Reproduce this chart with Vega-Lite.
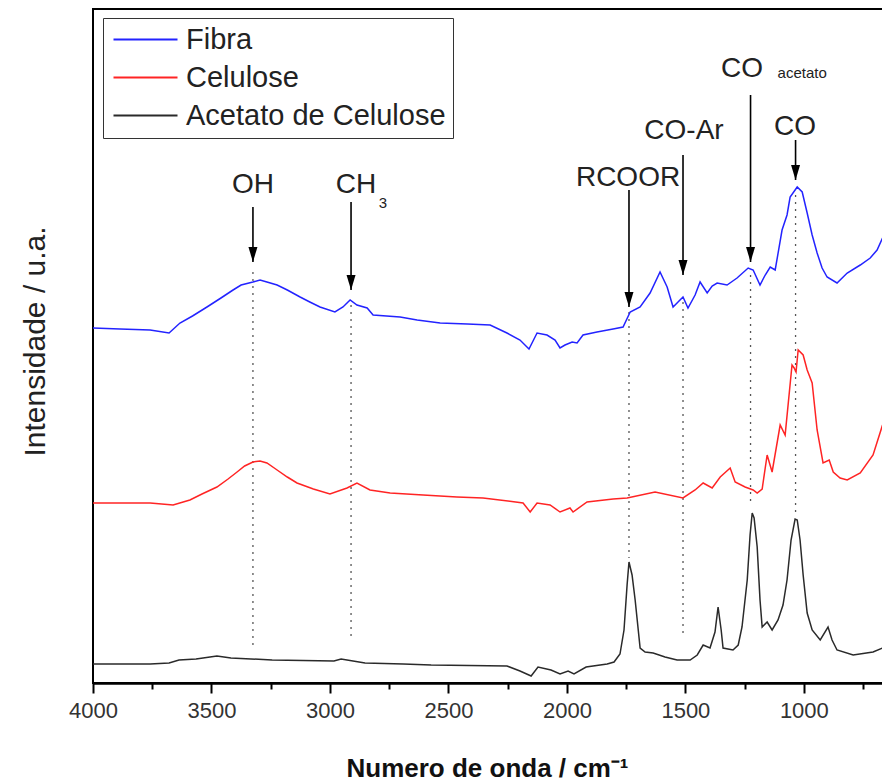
{
  "$schema": "https://vega.github.io/schema/vega-lite/v6.json",
  "width": 790,
  "height": 674,
  "autosize": {"type": "none"},
  "padding": {"left": 93, "top": 9, "right": 0, "bottom": 99},
  "background": "white",
  "config": {
    "view": {"stroke": "black", "strokeWidth": 2},
    "font": "Liberation Sans"
  },
  "datasets": {
    "spectra": [
      {"sample": "Fibra", "wn": 4000, "v": 35.5}, {"sample": "Fibra", "wn": 3886, "v": 35.4}, {"sample": "Fibra", "wn": 3759, "v": 35.3}, {"sample": "Fibra", "wn": 3679, "v": 35.0}, {"sample": "Fibra", "wn": 3633, "v": 36.0}, {"sample": "Fibra", "wn": 3580, "v": 36.7}, {"sample": "Fibra", "wn": 3519, "v": 37.6}, {"sample": "Fibra", "wn": 3460, "v": 38.5}, {"sample": "Fibra", "wn": 3409, "v": 39.3}, {"sample": "Fibra", "wn": 3375, "v": 39.8}, {"sample": "Fibra", "wn": 3325, "v": 40.1}, {"sample": "Fibra", "wn": 3295, "v": 40.3}, {"sample": "Fibra", "wn": 3266, "v": 40.1}, {"sample": "Fibra", "wn": 3223, "v": 39.8}, {"sample": "Fibra", "wn": 3180, "v": 39.3}, {"sample": "Fibra", "wn": 3126, "v": 38.6}, {"sample": "Fibra", "wn": 3085, "v": 38.1}, {"sample": "Fibra", "wn": 3042, "v": 37.6}, {"sample": "Fibra", "wn": 2979, "v": 37.1}, {"sample": "Fibra", "wn": 2945, "v": 37.6}, {"sample": "Fibra", "wn": 2915, "v": 38.3}, {"sample": "Fibra", "wn": 2886, "v": 37.8}, {"sample": "Fibra", "wn": 2843, "v": 37.5}, {"sample": "Fibra", "wn": 2818, "v": 36.8}, {"sample": "Fibra", "wn": 2704, "v": 36.6}, {"sample": "Fibra", "wn": 2632, "v": 36.3}, {"sample": "Fibra", "wn": 2535, "v": 36.0}, {"sample": "Fibra", "wn": 2420, "v": 35.9}, {"sample": "Fibra", "wn": 2324, "v": 35.8}, {"sample": "Fibra", "wn": 2253, "v": 35.0}, {"sample": "Fibra", "wn": 2198, "v": 34.3}, {"sample": "Fibra", "wn": 2160, "v": 33.4}, {"sample": "Fibra", "wn": 2126, "v": 35.0}, {"sample": "Fibra", "wn": 2084, "v": 34.8}, {"sample": "Fibra", "wn": 2050, "v": 34.3}, {"sample": "Fibra", "wn": 2029, "v": 33.5}, {"sample": "Fibra", "wn": 2008, "v": 33.8}, {"sample": "Fibra", "wn": 1978, "v": 34.1}, {"sample": "Fibra", "wn": 1957, "v": 34.0}, {"sample": "Fibra", "wn": 1932, "v": 34.8}, {"sample": "Fibra", "wn": 1873, "v": 35.1}, {"sample": "Fibra", "wn": 1805, "v": 35.4}, {"sample": "Fibra", "wn": 1763, "v": 35.6}, {"sample": "Fibra", "wn": 1733, "v": 37.1}, {"sample": "Fibra", "wn": 1691, "v": 37.6}, {"sample": "Fibra", "wn": 1649, "v": 39.0}, {"sample": "Fibra", "wn": 1607, "v": 41.1}, {"sample": "Fibra", "wn": 1577, "v": 39.6}, {"sample": "Fibra", "wn": 1552, "v": 37.6}, {"sample": "Fibra", "wn": 1531, "v": 38.1}, {"sample": "Fibra", "wn": 1510, "v": 38.6}, {"sample": "Fibra", "wn": 1489, "v": 37.5}, {"sample": "Fibra", "wn": 1459, "v": 38.8}, {"sample": "Fibra", "wn": 1438, "v": 40.1}, {"sample": "Fibra", "wn": 1408, "v": 39.0}, {"sample": "Fibra", "wn": 1387, "v": 39.7}, {"sample": "Fibra", "wn": 1366, "v": 40.0}, {"sample": "Fibra", "wn": 1324, "v": 39.8}, {"sample": "Fibra", "wn": 1282, "v": 40.5}, {"sample": "Fibra", "wn": 1235, "v": 41.5}, {"sample": "Fibra", "wn": 1214, "v": 41.3}, {"sample": "Fibra", "wn": 1185, "v": 39.8}, {"sample": "Fibra", "wn": 1163, "v": 40.8}, {"sample": "Fibra", "wn": 1142, "v": 41.6}, {"sample": "Fibra", "wn": 1121, "v": 41.3}, {"sample": "Fibra", "wn": 1092, "v": 45.3}, {"sample": "Fibra", "wn": 1071, "v": 46.8}, {"sample": "Fibra", "wn": 1058, "v": 48.6}, {"sample": "Fibra", "wn": 1028, "v": 49.6}, {"sample": "Fibra", "wn": 1007, "v": 49.1}, {"sample": "Fibra", "wn": 986, "v": 47.0}, {"sample": "Fibra", "wn": 965, "v": 44.8}, {"sample": "Fibra", "wn": 944, "v": 43.0}, {"sample": "Fibra", "wn": 923, "v": 41.5}, {"sample": "Fibra", "wn": 902, "v": 40.6}, {"sample": "Fibra", "wn": 860, "v": 40.0}, {"sample": "Fibra", "wn": 817, "v": 41.0}, {"sample": "Fibra", "wn": 762, "v": 41.8}, {"sample": "Fibra", "wn": 720, "v": 42.5}, {"sample": "Fibra", "wn": 691, "v": 43.3}, {"sample": "Fibra", "wn": 668, "v": 44.5},
      {"sample": "Celulose", "wn": 4000, "v": 18.0}, {"sample": "Celulose", "wn": 3759, "v": 18.0}, {"sample": "Celulose", "wn": 3662, "v": 17.8}, {"sample": "Celulose", "wn": 3591, "v": 18.3}, {"sample": "Celulose", "wn": 3540, "v": 18.9}, {"sample": "Celulose", "wn": 3477, "v": 19.6}, {"sample": "Celulose", "wn": 3430, "v": 20.4}, {"sample": "Celulose", "wn": 3392, "v": 21.1}, {"sample": "Celulose", "wn": 3360, "v": 21.7}, {"sample": "Celulose", "wn": 3325, "v": 22.1}, {"sample": "Celulose", "wn": 3295, "v": 22.2}, {"sample": "Celulose", "wn": 3266, "v": 22.0}, {"sample": "Celulose", "wn": 3223, "v": 21.3}, {"sample": "Celulose", "wn": 3180, "v": 20.6}, {"sample": "Celulose", "wn": 3139, "v": 20.0}, {"sample": "Celulose", "wn": 3070, "v": 19.4}, {"sample": "Celulose", "wn": 3000, "v": 18.9}, {"sample": "Celulose", "wn": 2928, "v": 19.5}, {"sample": "Celulose", "wn": 2886, "v": 20.0}, {"sample": "Celulose", "wn": 2831, "v": 19.3}, {"sample": "Celulose", "wn": 2746, "v": 19.0}, {"sample": "Celulose", "wn": 2607, "v": 18.8}, {"sample": "Celulose", "wn": 2464, "v": 18.6}, {"sample": "Celulose", "wn": 2354, "v": 18.5}, {"sample": "Celulose", "wn": 2185, "v": 18.0}, {"sample": "Celulose", "wn": 2155, "v": 17.1}, {"sample": "Celulose", "wn": 2126, "v": 18.0}, {"sample": "Celulose", "wn": 2071, "v": 17.8}, {"sample": "Celulose", "wn": 2029, "v": 17.1}, {"sample": "Celulose", "wn": 1987, "v": 17.5}, {"sample": "Celulose", "wn": 1974, "v": 17.1}, {"sample": "Celulose", "wn": 1915, "v": 18.1}, {"sample": "Celulose", "wn": 1805, "v": 18.4}, {"sample": "Celulose", "wn": 1746, "v": 18.5}, {"sample": "Celulose", "wn": 1628, "v": 19.1}, {"sample": "Celulose", "wn": 1510, "v": 18.5}, {"sample": "Celulose", "wn": 1459, "v": 19.3}, {"sample": "Celulose", "wn": 1425, "v": 20.0}, {"sample": "Celulose", "wn": 1387, "v": 19.5}, {"sample": "Celulose", "wn": 1353, "v": 20.6}, {"sample": "Celulose", "wn": 1311, "v": 21.5}, {"sample": "Celulose", "wn": 1290, "v": 20.1}, {"sample": "Celulose", "wn": 1248, "v": 19.6}, {"sample": "Celulose", "wn": 1214, "v": 19.3}, {"sample": "Celulose", "wn": 1197, "v": 19.0}, {"sample": "Celulose", "wn": 1176, "v": 19.4}, {"sample": "Celulose", "wn": 1155, "v": 22.8}, {"sample": "Celulose", "wn": 1134, "v": 21.1}, {"sample": "Celulose", "wn": 1100, "v": 25.8}, {"sample": "Celulose", "wn": 1079, "v": 24.8}, {"sample": "Celulose", "wn": 1050, "v": 31.8}, {"sample": "Celulose", "wn": 1041, "v": 31.5}, {"sample": "Celulose", "wn": 1033, "v": 31.1}, {"sample": "Celulose", "wn": 1024, "v": 33.3}, {"sample": "Celulose", "wn": 1003, "v": 32.8}, {"sample": "Celulose", "wn": 986, "v": 31.3}, {"sample": "Celulose", "wn": 965, "v": 30.0}, {"sample": "Celulose", "wn": 944, "v": 25.3}, {"sample": "Celulose", "wn": 919, "v": 22.0}, {"sample": "Celulose", "wn": 893, "v": 22.3}, {"sample": "Celulose", "wn": 876, "v": 21.1}, {"sample": "Celulose", "wn": 847, "v": 20.5}, {"sample": "Celulose", "wn": 817, "v": 20.3}, {"sample": "Celulose", "wn": 762, "v": 21.0}, {"sample": "Celulose", "wn": 708, "v": 22.8}, {"sample": "Celulose", "wn": 668, "v": 25.8},
      {"sample": "Acetato de Celulose", "wn": 4000, "v": 1.9}, {"sample": "Acetato de Celulose", "wn": 3759, "v": 1.9}, {"sample": "Acetato de Celulose", "wn": 3679, "v": 2.0}, {"sample": "Acetato de Celulose", "wn": 3637, "v": 2.3}, {"sample": "Acetato de Celulose", "wn": 3565, "v": 2.4}, {"sample": "Acetato de Celulose", "wn": 3477, "v": 2.7}, {"sample": "Acetato de Celulose", "wn": 3418, "v": 2.5}, {"sample": "Acetato de Celulose", "wn": 3244, "v": 2.3}, {"sample": "Acetato de Celulose", "wn": 2983, "v": 2.2}, {"sample": "Acetato de Celulose", "wn": 2953, "v": 2.4}, {"sample": "Acetato de Celulose", "wn": 2852, "v": 2.0}, {"sample": "Acetato de Celulose", "wn": 2691, "v": 1.9}, {"sample": "Acetato de Celulose", "wn": 2573, "v": 1.8}, {"sample": "Acetato de Celulose", "wn": 2253, "v": 1.7}, {"sample": "Acetato de Celulose", "wn": 2198, "v": 1.2}, {"sample": "Acetato de Celulose", "wn": 2151, "v": 0.7}, {"sample": "Acetato de Celulose", "wn": 2122, "v": 1.6}, {"sample": "Acetato de Celulose", "wn": 2067, "v": 1.3}, {"sample": "Acetato de Celulose", "wn": 2029, "v": 0.9}, {"sample": "Acetato de Celulose", "wn": 1995, "v": 1.2}, {"sample": "Acetato de Celulose", "wn": 1970, "v": 0.9}, {"sample": "Acetato de Celulose", "wn": 1919, "v": 1.6}, {"sample": "Acetato de Celulose", "wn": 1830, "v": 1.9}, {"sample": "Acetato de Celulose", "wn": 1801, "v": 2.1}, {"sample": "Acetato de Celulose", "wn": 1776, "v": 2.9}, {"sample": "Acetato de Celulose", "wn": 1759, "v": 5.3}, {"sample": "Acetato de Celulose", "wn": 1746, "v": 9.8}, {"sample": "Acetato de Celulose", "wn": 1738, "v": 12.1}, {"sample": "Acetato de Celulose", "wn": 1725, "v": 10.8}, {"sample": "Acetato de Celulose", "wn": 1712, "v": 8.3}, {"sample": "Acetato de Celulose", "wn": 1691, "v": 3.5}, {"sample": "Acetato de Celulose", "wn": 1670, "v": 3.1}, {"sample": "Acetato de Celulose", "wn": 1636, "v": 3.0}, {"sample": "Acetato de Celulose", "wn": 1586, "v": 2.6}, {"sample": "Acetato de Celulose", "wn": 1535, "v": 2.3}, {"sample": "Acetato de Celulose", "wn": 1480, "v": 2.3}, {"sample": "Acetato de Celulose", "wn": 1450, "v": 2.8}, {"sample": "Acetato de Celulose", "wn": 1425, "v": 3.8}, {"sample": "Acetato de Celulose", "wn": 1396, "v": 3.5}, {"sample": "Acetato de Celulose", "wn": 1375, "v": 5.1}, {"sample": "Acetato de Celulose", "wn": 1362, "v": 7.6}, {"sample": "Acetato de Celulose", "wn": 1349, "v": 5.3}, {"sample": "Acetato de Celulose", "wn": 1341, "v": 3.5}, {"sample": "Acetato de Celulose", "wn": 1299, "v": 3.3}, {"sample": "Acetato de Celulose", "wn": 1277, "v": 3.8}, {"sample": "Acetato de Celulose", "wn": 1261, "v": 5.6}, {"sample": "Acetato de Celulose", "wn": 1239, "v": 10.3}, {"sample": "Acetato de Celulose", "wn": 1227, "v": 14.8}, {"sample": "Acetato de Celulose", "wn": 1218, "v": 17.0}, {"sample": "Acetato de Celulose", "wn": 1210, "v": 16.5}, {"sample": "Acetato de Celulose", "wn": 1197, "v": 13.6}, {"sample": "Acetato de Celulose", "wn": 1185, "v": 8.3}, {"sample": "Acetato de Celulose", "wn": 1176, "v": 5.6}, {"sample": "Acetato de Celulose", "wn": 1155, "v": 6.1}, {"sample": "Acetato de Celulose", "wn": 1134, "v": 5.3}, {"sample": "Acetato de Celulose", "wn": 1109, "v": 6.3}, {"sample": "Acetato de Celulose", "wn": 1088, "v": 7.8}, {"sample": "Acetato de Celulose", "wn": 1071, "v": 10.3}, {"sample": "Acetato de Celulose", "wn": 1054, "v": 14.3}, {"sample": "Acetato de Celulose", "wn": 1037, "v": 16.4}, {"sample": "Acetato de Celulose", "wn": 1028, "v": 16.3}, {"sample": "Acetato de Celulose", "wn": 1016, "v": 14.3}, {"sample": "Acetato de Celulose", "wn": 1003, "v": 10.8}, {"sample": "Acetato de Celulose", "wn": 986, "v": 7.0}, {"sample": "Acetato de Celulose", "wn": 965, "v": 5.3}, {"sample": "Acetato de Celulose", "wn": 931, "v": 4.3}, {"sample": "Acetato de Celulose", "wn": 898, "v": 5.6}, {"sample": "Acetato de Celulose", "wn": 881, "v": 4.3}, {"sample": "Acetato de Celulose", "wn": 860, "v": 3.3}, {"sample": "Acetato de Celulose", "wn": 792, "v": 2.8}, {"sample": "Acetato de Celulose", "wn": 708, "v": 3.1}, {"sample": "Acetato de Celulose", "wn": 668, "v": 3.5}
    ],
    "arrows": [
      {"wn": 3325, "v": 47.6, "v2": 42.1},
      {"wn": 2911, "v": 48.1, "v2": 39.3},
      {"wn": 1738, "v": 49.3, "v2": 37.6},
      {"wn": 1510, "v": 52.8, "v2": 40.8},
      {"wn": 1225, "v": 58.8, "v2": 42.1},
      {"wn": 1035, "v": 54.3, "v2": 50.3}
    ],
    "dots": [
      {"wn": 3325, "v": 41.1, "v2": 3.3},
      {"wn": 2911, "v": 37.8, "v2": 4.7},
      {"wn": 1738, "v": 37.1, "v2": 12.5},
      {"wn": 1510, "v": 38.1, "v2": 4.5},
      {"wn": 1225, "v": 40.8, "v2": 17.8},
      {"wn": 1035, "v": 48.8, "v2": 17.1}
    ],
    "labels": [
      {"t": "OH", "wn": 3325, "v": 49.0, "role": "main"},
      {"t": "CH", "wn": 2890, "v": 49.0, "role": "main"},
      {"t": "3", "wn": 2776, "v": 47.5, "role": "sub"},
      {"t": "RCOOR", "wn": 1742, "v": 49.7, "role": "main"},
      {"t": "CO-Ar", "wn": 1506, "v": 54.4, "role": "main"},
      {"t": "CO", "wn": 1261, "v": 60.6, "role": "main"},
      {"t": "acetato", "wn": 1007, "v": 60.5, "role": "sub"},
      {"t": "CO", "wn": 1037, "v": 54.8, "role": "main"}
    ]
  },
  "encoding": {
    "x": {
      "field": "wn",
      "type": "quantitative",
      "scale": {"domain": [4000, 666], "nice": false, "zero": false},
      "axis": {
        "title": "Numero de onda / cm⁻¹",
        "values": [4000, 3750, 3500, 3250, 3000, 2750, 2500, 2250, 2000, 1750, 1500, 1250, 1000, 750],
        "labelExpr": "datum.value % 500 === 0 ? format(datum.value, 'd') : ''",
        "tickSize": {"condition": {"test": "datum.value % 500 === 0", "value": 10}, "value": 6},
        "tickWidth": 2,
        "tickColor": "black",
        "domainWidth": 2.5,
        "domainColor": "black",
        "grid": false,
        "labelFont": "Liberation Sans",
        "labelFontSize": 22,
        "labelColor": "#333",
        "labelPadding": 7,
        "labelFlush": false,
        "labelOverlap": false,
        "titleFont": "Liberation Sans",
        "titleFontSize": 26,
        "titleFontWeight": "bold",
        "titleColor": "#111",
        "titleBaseline": "middle",
        "titleY": 85,
        "titleX": 394
      }
    },
    "y": {
      "field": "v",
      "type": "quantitative",
      "scale": {"domain": [0, 67.4], "nice": false, "zero": false},
      "axis": {
        "title": "Intensidade / u.a.",
        "labels": false,
        "ticks": false,
        "domain": false,
        "grid": false,
        "titleFont": "Liberation Sans",
        "titleFontSize": 30,
        "titleFontWeight": "normal",
        "titleColor": "#222",
        "titleAngle": -90,
        "titleAlign": "center",
        "titleBaseline": "middle",
        "titleX": -58,
        "titleY": 332
      }
    }
  },
  "layer": [
    {
      "data": {"name": "dots"},
      "mark": {"type": "rule", "color": "#555", "strokeWidth": 1.3, "strokeDash": [2, 5]},
      "encoding": {"y2": {"field": "v2"}}
    },
    {
      "data": {"name": "spectra"},
      "mark": {"type": "line", "strokeWidth": 1.5},
      "encoding": {
        "color": {
          "field": "sample",
          "type": "nominal",
          "scale": {"domain": ["Fibra", "Celulose", "Acetato de Celulose"], "range": ["#2323ff", "#ff2424", "#2a2a2a"]},
          "legend": {
            "title": null,
            "orient": "none",
            "legendX": 10,
            "legendY": 9,
            "direction": "vertical",
            "symbolType": "M-3.2,0L3.2,0",
            "symbolSize": 400,
            "symbolStrokeWidth": 2,
            "symbolOffset": 21,
            "labelFont": "Liberation Sans",
            "labelFontSize": 29,
            "labelColor": "#222",
            "labelOffset": 26,
            "labelLimit": 400,
            "rowPadding": 8,
            "padding": 7,
            "strokeColor": "#333",
            "fillColor": "white"
          }
        }
      }
    },
    {
      "data": {"name": "arrows"},
      "mark": {"type": "rule", "color": "black", "strokeWidth": 1.6},
      "encoding": {"y2": {"field": "v2"}}
    },
    {
      "data": {"name": "arrows"},
      "mark": {"type": "point", "shape": "M-0.6,-1L0.6,-1L0,1Z", "filled": true, "color": "black", "opacity": 1, "size": 225, "yOffset": -7.5},
      "encoding": {"y": {"field": "v2", "type": "quantitative"}}
    },
    {
      "data": {"name": "labels"},
      "transform": [{"filter": "datum.role === 'main'"}],
      "mark": {"type": "text", "font": "Liberation Sans", "fontSize": 28, "color": "#222", "align": "center", "baseline": "alphabetic"},
      "encoding": {"text": {"field": "t"}}
    },
    {
      "data": {"name": "labels"},
      "transform": [{"filter": "datum.role === 'sub'"}],
      "mark": {"type": "text", "font": "Liberation Sans", "fontSize": 15, "color": "#222", "align": "center", "baseline": "alphabetic"},
      "encoding": {"text": {"field": "t"}}
    }
  ]
}
